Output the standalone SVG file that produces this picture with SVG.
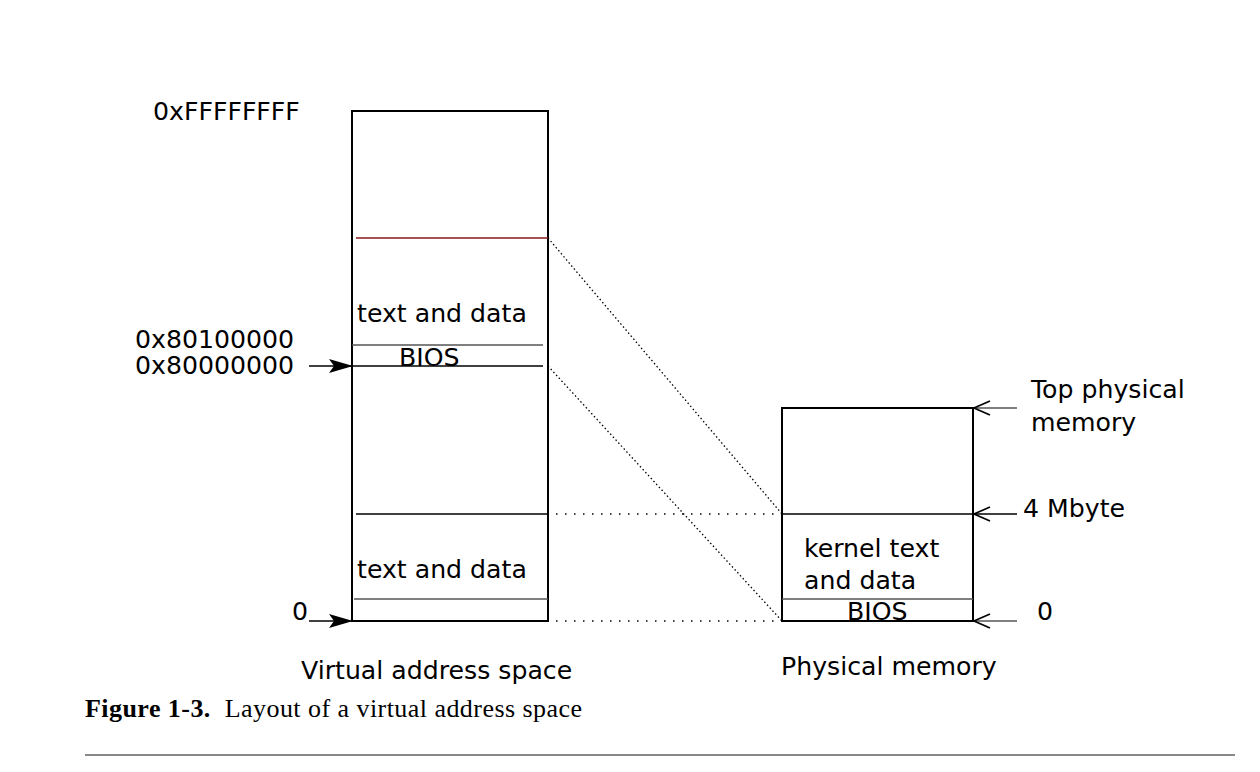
<svg xmlns="http://www.w3.org/2000/svg" width="1260" height="772" viewBox="0 0 1260 772">
<defs>
<style>
.t{font-family:"DejaVu Sans","Verdana",sans-serif;font-size:25.2px;fill:#000}
.box{fill:none;stroke:#000;stroke-width:2}
.thin{stroke:#000;stroke-width:1.4}
.gray{stroke:#555;stroke-width:1.3}
.dot{stroke:#000;stroke-width:1.3;fill:none}
.cap{font-family:"Liberation Serif","Times New Roman",serif;font-size:26px;letter-spacing:0.45px;fill:#000}
</style>
<marker id="fill" viewBox="0 0 24 16" refX="23" refY="8" markerWidth="24" markerHeight="16" markerUnits="userSpaceOnUse" orient="auto">
<path d="M0,1 L24,8 L0,15 L5,8 Z" fill="#000"/>
</marker>
<marker id="open" viewBox="0 0 18 16" refX="1" refY="8" markerWidth="18" markerHeight="16" markerUnits="userSpaceOnUse" orient="auto">
<path d="M17,1 L1,8 L17,15" fill="none" stroke="#000" stroke-width="1.6"/>
</marker>
</defs>
<rect width="1260" height="772" fill="#fff"/>

<g id="virtual">
<rect class="box" x="352" y="111" width="196" height="510"/>
<line x1="356" y1="238" x2="548" y2="238" stroke="#8b1a1a" stroke-width="1.4"/>
<line class="gray" x1="352" y1="345" x2="543" y2="345"/>
<line class="thin" x1="352" y1="366" x2="543" y2="366"/>
<line class="thin" x1="356" y1="514" x2="548" y2="514"/>
<line class="gray" x1="354" y1="599" x2="548" y2="599"/>
<text class="t" x="357" y="322">text and data</text>
<text class="t" x="399" y="366">BIOS</text>
<text class="t" x="357" y="578">text and data</text>
<text class="t" x="301" y="679">Virtual address space</text>
</g>

<g id="virtual-labels">
<text class="t" x="153" y="120">0xFFFFFFFF</text>
<text class="t" x="135" y="348">0x80100000</text>
<text class="t" x="135" y="374">0x80000000</text>
<text class="t" x="292" y="620">0</text>
</g>

<g id="physical">
<rect class="box" x="782" y="408" width="191" height="213"/>
<line class="thin" x1="782" y1="514" x2="973" y2="514"/>
<line class="gray" x1="782" y1="599" x2="973" y2="599"/>
<text class="t" x="804" y="557">kernel text</text>
<text class="t" x="804" y="589">and data</text>
<text class="t" x="847" y="620">BIOS</text>
<text class="t" x="781" y="675">Physical memory</text>
</g>

<g id="physical-labels">
<text class="t" x="1031" y="398">Top physical</text>
<text class="t" x="1031" y="431">memory</text>
<text class="t" x="1023" y="517">4 Mbyte</text>
<text class="t" x="1037" y="620">0</text>
</g>

<g id="connectors">
<line x1="309" y1="366" x2="352" y2="366" stroke="#000" stroke-width="1.3" marker-end="url(#fill)"/>
<line x1="309" y1="621" x2="352" y2="621" stroke="#000" stroke-width="1.3" marker-end="url(#fill)"/>
<line x1="974" y1="408" x2="1017" y2="408" stroke="#555" stroke-width="1.4" marker-start="url(#open)"/>
<line x1="974" y1="514" x2="1017" y2="514" stroke="#000" stroke-width="1.4" marker-start="url(#open)"/>
<line x1="974" y1="621" x2="1017" y2="621" stroke="#555" stroke-width="1.4" marker-start="url(#open)"/>
<line class="dot" x1="548" y1="238" x2="782" y2="514" stroke-dasharray="1.5 2.5"/>
<line class="dot" x1="548" y1="366" x2="782" y2="621" stroke-dasharray="1.5 2.5"/>
<line class="dot" x1="556" y1="514" x2="782" y2="514" stroke-dasharray="1.5 7.5"/>
<line class="dot" x1="556" y1="621" x2="782" y2="621" stroke-dasharray="1.5 7.5"/>
</g>

<g id="caption">
<text class="cap" x="85" y="717" xml:space="preserve"><tspan font-weight="bold">Figure 1-3.</tspan>  Layout of a virtual address space</text>
<line x1="85" y1="755" x2="1235" y2="755" stroke="#888" stroke-width="2"/>
</g>
</svg>
